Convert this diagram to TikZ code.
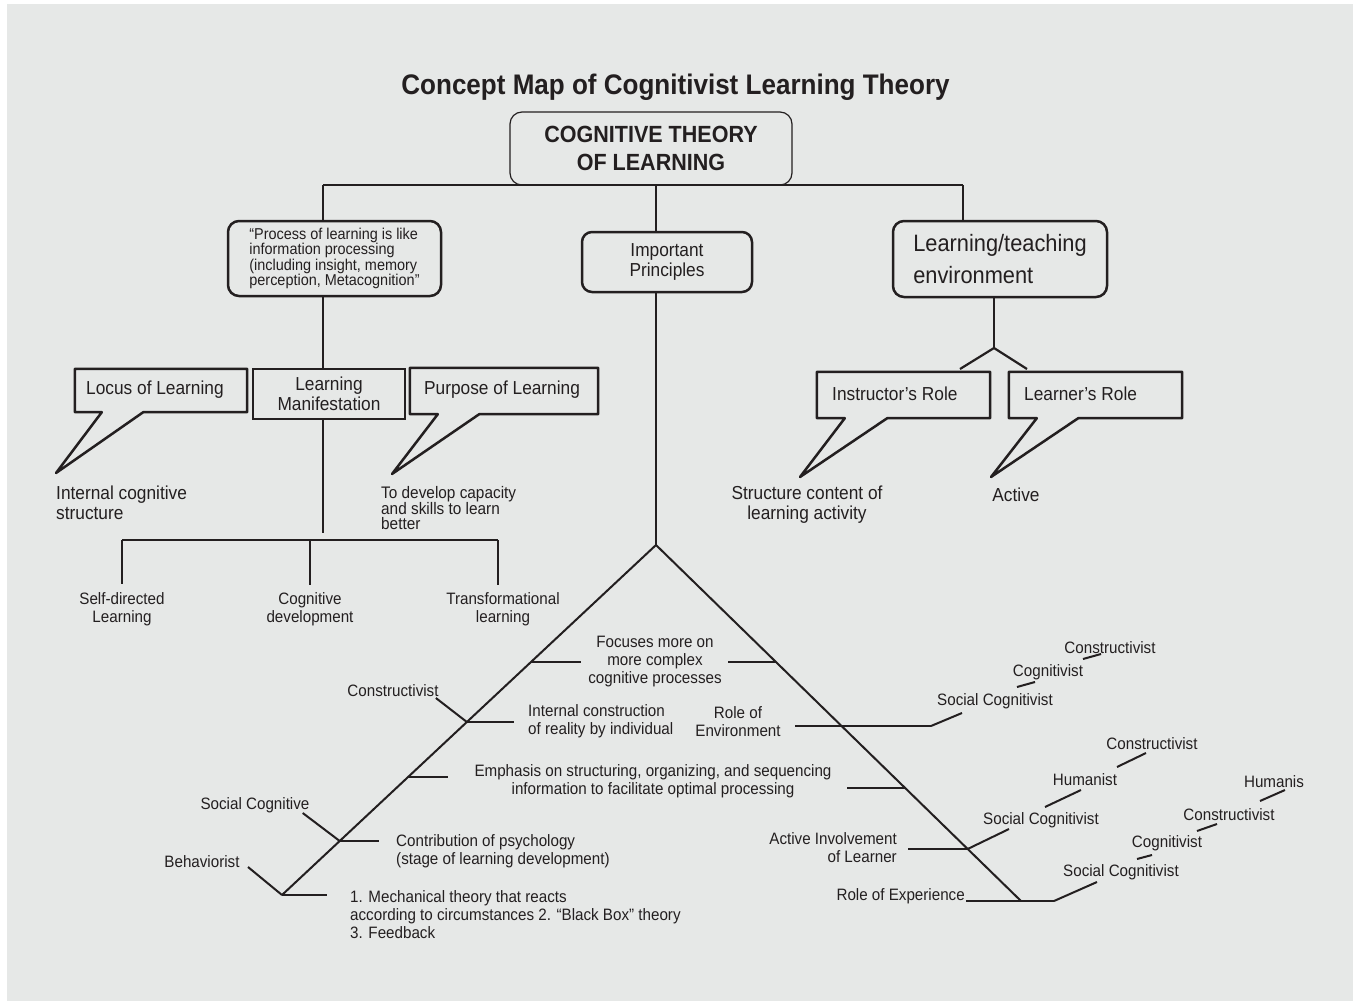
\documentclass[tikz,border=0pt]{standalone}
\usepackage{fontspec}
\setmainfont{Liberation Sans}[FakeStretch=0.92]
\usetikzlibrary{calc}
\definecolor{bg}{RGB}{230,232,231}
\definecolor{ink}{RGB}{35,31,32}
\newcommand\myfs[2]{\fontsize{#1}{#2}\selectfont}
\begin{document}
\begin{tikzpicture}[x=1pt,y=-1pt,
  line/.style={draw=ink,line width=2.2pt},
  thin/.style={draw=ink,line width=2pt},
  boxr/.style={draw=ink,line width=2.5pt,rounded corners=11pt,inner sep=0pt,text=ink},
  plainbox/.style={draw=ink,line width=2.5pt,inner sep=0pt,text=ink},
  callout/.style={draw=ink,line width=2.5pt,line join=round},
  lbl/.style={inner sep=0pt,text=ink,font=\myfs{16.5}{18},yshift=-1.5pt},
  big/.style={inner sep=0pt,text=ink,font=\myfs{18.8}{20.5},yshift=-1.5pt},
]
\useasboundingbox (0,0) rectangle (1353,1001);
\fill[white] (0,0) rectangle (1353,1001);
\fill[bg] (7,4) rectangle (1353,1001);

% title and root
\node[inner sep=0pt,text=ink,font=\bfseries\myfs{28.3}{30}] (title) at (675.5,87) {Concept Map of Cognitivist Learning Theory};
\node[draw=ink,line width=1.2pt,rounded corners=12pt,minimum width=282pt,minimum height=73pt,inner sep=0pt,align=center,text=ink,font=\bfseries\myfs{23.4}{28}] (root) at (651,148.5) {COGNITIVE THEORY\\OF LEARNING};

% level 1 boxes
\node[boxr,minimum width=213pt,minimum height=75pt,align=left,font=\myfs{15.7}{15.5}] (proc) at (334.5,258.5) {“Process of learning is like\\information processing\\(including insight, memory\\perception, Metacognition”};
\node[boxr,minimum width=170pt,minimum height=60pt,rounded corners=10pt,align=center,font=\myfs{18.8}{21}] (imp) at (667,262) {Important\\[-0.5pt]Principles};
\node[boxr,minimum width=214pt,minimum height=76pt,align=left,font=\myfs{23.7}{32}] (env) at (1000,259) {Learning/teaching\\environment};

\coordinate (barL) at (323,185);
\coordinate (barM) at (656,185);
\coordinate (barR) at (963,185);
\draw[line] (barL) -- (barR);
\draw[line] (barL) -- (barL |- proc.north);
\draw[line] (barM) -- (barM |- imp.north);
\draw[line] (barR) -- (barR |- env.north);

% left callouts
\node[minimum width=172pt,minimum height=43pt,inner sep=0pt] (locus) at (161,390.5) {};
\node[big,anchor=west] (locust) at (86,388) {Locus of Learning};
\coordinate (locustip) at (56,473);
\draw[callout] (locus.north west) -- (locus.north east) -- (locus.south east) -- ([xshift=-104pt]locus.south east) -- (locustip) -- ([xshift=27pt]locus.south west) -- (locus.south west) -- cycle;

\node[plainbox,minimum width=152pt,minimum height=50pt,align=center,font=\myfs{18.8}{20.5}] (manif) at (329,394) {Learning\\Manifestation};

\node[minimum width=188pt,minimum height=46pt,inner sep=0pt] (purp) at (504,391) {};
\node[big,anchor=west] (purpt) at (424,388) {Purpose of Learning};
\coordinate (purptip) at (392,474);
\draw[callout] (purp.north west) -- (purp.north east) -- (purp.south east) -- ([xshift=-119pt]purp.south east) -- (purptip) -- ([xshift=28pt]purp.south west) -- (purp.south west) -- cycle;

\node[big,anchor=west,align=left,yshift=1.5pt] (ics) at (56,503) {Internal cognitive\\structure};
\node[inner sep=0pt,text=ink,anchor=west,align=left,font=\myfs{16.7}{15}] (dev) at (381,508) {To develop capacity\\and skills to learn\\better};

\draw[line] (barL |- proc.south) -- (barL |- manif.north);
\coordinate (mEnd) at (323,533);
\draw[line] (barL |- manif.south) -- (mEnd);

\node[lbl,align=center] (sd) at (122,608) {Self-directed\\Learning};
\node[lbl,align=center] (cd) at (310,608) {Cognitive\\development};
\node[lbl,align=center] (tl) at (503,608) {Transformational\\learning};
\coordinate (b1) at (122,540);
\coordinate (b2) at (310,540);
\coordinate (b3) at (498,540);
\draw[line] (b1) -- (b3);
\draw[line] (b1) -- ++(0,44);
\draw[line] (b2) -- ++(0,45);
\draw[line] (b3) -- ++(0,45);

% environment fork and right callouts
\coordinate (fork) at (994,348);
\coordinate (forkL) at (960,369);
\coordinate (forkR) at (1027,369);
\draw[line] (fork |- env.south) -- (fork);
\draw[line] (forkL) -- (fork) -- (forkR);

\node[minimum width=173pt,minimum height=46pt,inner sep=0pt] (instr) at (903.5,395) {};
\node[big,anchor=west] (instrt) at (832,392) {Instructor’s Role};
\coordinate (instrtip) at (800,477);
\draw[callout] (instr.north west) -- (instr.north east) -- (instr.south east) -- ([xshift=-103pt]instr.south east) -- (instrtip) -- ([xshift=28pt]instr.south west) -- (instr.south west) -- cycle;

\node[minimum width=173pt,minimum height=46pt,inner sep=0pt] (lrn) at (1095.5,395) {};
\node[big,anchor=west] (lrnt) at (1024,392) {Learner’s Role};
\coordinate (lrntip) at (991,477);
\draw[callout] (lrn.north west) -- (lrn.north east) -- (lrn.south east) -- ([xshift=-104pt]lrn.south east) -- (lrntip) -- ([xshift=28pt]lrn.south west) -- (lrn.south west) -- cycle;

\node[big,align=center] (sca) at (807,503) {Structure content of\\learning activity};
\node[big] (act) at (1016,493) {Active};

% triangle
\coordinate (apex) at (656,545);
\coordinate (lb) at (282,895);
\coordinate (rb) at (1021,901);
\draw[line] (barM |- imp.south) -- (apex);
\draw[thin] (lb) -- (apex) -- (rb);

% left leg ticks
\coordinate (l1) at ($(apex)!0.3343!(lb)$);
\coordinate (l2) at ($(apex)!0.5057!(lb)$);
\coordinate (l3) at ($(apex)!0.6629!(lb)$);
\coordinate (l4) at ($(apex)!0.8457!(lb)$);
\draw[line] (l1) -- ++(50,0);
\draw[line] (l2) -- ++(47,0);
\draw[line] (l3) -- ++(40,0);
\draw[line] (l4) -- ++(39,0);
\draw[line] (lb) -- ++(45,0);
\draw[thin] (l2) -- ++(-31,-24);
\draw[thin] (l4) -- ++(-37,-28);
\draw[thin] (lb) -- ++(-34,-28);

% right leg ticks
\coordinate (r1) at ($(apex)!0.3287!(rb)$);
\coordinate (r3) at ($(apex)!0.6826!(rb)$);
\coordinate (r4) at ($(apex)!0.8539!(rb)$);
\draw[line] (r1) -- ++(-48,0);
\draw[line] (r3) -- ++(-58,0);
\draw[line] (r4) -- ++(-60,0);

% labels inside / left of triangle
\node[lbl,align=center] (foc) at (655,660) {Focuses more on\\more complex\\cognitive processes};
\node[lbl,align=left,anchor=west] (icr) at (528,720) {Internal construction\\of reality by individual};
\node[lbl,align=center] (roenv) at (738,720) {Role of\\Environment};
\node[lbl,align=center] (emph) at (653,780) {Emphasis on structuring, organizing, and sequencing\\information to facilitate optimal processing};
\node[lbl,align=left,anchor=west] (contr) at (396,850) {Contribution of psychology\\(stage of learning development)};
\node[lbl,align=left,anchor=west] (mech) at (350,913) {1. Mechanical theory that reacts\\according to circumstances 2. “Black Box” theory\\3. Feedback};
\node[lbl] (conL) at (393,689) {Constructivist};
\node[lbl] (scL) at (255,804) {Social Cognitive};
\node[lbl] (behL) at (202,860) {Behaviorist};

% right side
\node[lbl,align=right,anchor=east] (aiol) at (897,846) {Active Involvement\\of Learner};
\node[lbl,anchor=east] (roe) at (965,895) {Role of Experience};

\node[lbl] (sc1) at (995,700) {Social Cognitivist};
\node[lbl] (cog1) at (1048,671) {Cognitivist};
\node[lbl] (con1) at (1110,646) {Constructivist};
\node[lbl] (sc2) at (1041,819) {Social Cognitivist};
\node[lbl] (hum2) at (1085,778) {Humanist};
\node[lbl] (con2) at (1152,742) {Constructivist};
\node[lbl] (sc3) at (1121,871) {Social Cognitivist};
\node[lbl] (cog3) at (1167,842) {Cognitivist};
\node[lbl] (con3) at (1229,813) {Constructivist};
\node[lbl] (hum3) at (1274,780) {Humanis};

% Role of Environment branch
\coordinate (e0) at (795,726);
\coordinate (e1) at (931,726);
\coordinate (e2) at (962,713);
\draw[line] (e0) -- (e1);
\draw[thin] (e1) -- (e2);
\draw[thin] (1017,687) -- (1035,682);
\draw[thin] (1083,659) -- (1101,654);

% Active involvement branch
\draw[thin] (r4) -- (1009,829);
\draw[thin] (1045,807) -- (1081,790);
\draw[thin] (1117,767) -- (1146,753);

% Role of experience branch
\coordinate (x0) at (966,901);
\coordinate (x1) at (1054,901);
\draw[line] (x0) -- (x1);
\draw[thin] (x1) -- (1097,882);
\draw[thin] (1137,859) -- (1152,855);
\draw[thin] (1197,831) -- (1217,824);
\draw[thin] (1260,801) -- (1285,790);
\end{tikzpicture}
\end{document}
